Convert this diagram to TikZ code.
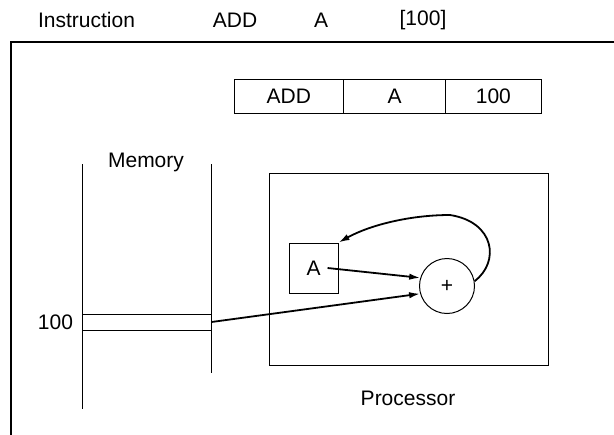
\documentclass[tikz,border=0pt]{standalone}
\usepackage{fontspec}
\setmainfont{Liberation Sans}
\usepackage{tikz}
\usetikzlibrary{arrows.meta, positioning}

\begin{document}
\begin{tikzpicture}[
        x=0.5pt, y=-0.5pt,
        font=\fontsize{10.5}{12.6}\selectfont,
        wire/.style={draw, line width=0.5pt},
        cell/.style={rectangle, draw, line width=0.5pt, minimum height=17pt, outer sep=0pt, inner sep=0pt},
        unit/.style={rectangle, draw, line width=0.5pt, inner sep=0pt},
        adder/.style={circle, draw, line width=0.5pt, minimum size=27.5pt, inner sep=0pt},
        arr/.style={-{Latex[length=5.5pt, width=3.2pt]}, line width=0.9pt}
    ]
    \useasboundingbox (0,0) rectangle (614,434);

    % Heading
    \node (instr) at (86.5,20) {Instruction};
    \node (opcode) at (235,20) {ADD};
    \node (regname) at (321,20) {A};
    \node (addr) at (423,20) {[100]};

    % Frame
    \coordinate (frametop) at (620,42);
    \coordinate (framecorner) at (11,42);
    \coordinate (framebot) at (11,440);
    \draw[wire, line width=0.6pt] (frametop) -- (framecorner) -- (framebot);

    % Instruction word
    \node[cell, minimum width=54.5pt] (fop) at (288.8,96) {ADD};
    \node[cell, minimum width=51.2pt, right=0pt of fop] (freg) {A};
    \node[cell, minimum width=47.7pt, right=0pt of freg] (faddr) {100};

    % Memory
    \coordinate (mtl) at (82,164);
    \coordinate (mbl) at (82,409);
    \coordinate (mtr) at (211,164);
    \coordinate (mbr) at (211,373);
    \draw[wire] (mtl) -- (mbl);
    \draw[wire] (mtr) -- (mbr);
    \node (memlbl) at (146,162) {Memory};
    \node[unit, minimum width=64.5pt, minimum height=8pt] (loc) at (146.5,322) {};
    \node[left=0.7pt of loc] (loclbl) {100};

    % Processor
    \node[unit, minimum width=139.5pt, minimum height=96pt] (proc) at (408.5,269) {};
    \node (proclbl) at (408,398) {Processor};
    \node[unit, minimum width=24.5pt, minimum height=25pt] (areg) at (313.5,268) {};
    \node (aval) at (areg.center) {A};
    \node[adder] (sum) at (447,286) {+};

    % Data paths
    \coordinate (looptop) at (450,215);
    \draw[arr] (aval.east) -- (sum.163);
    \draw[arr] (loc.east) -- (sum.196);
    \draw[arr] (sum.10) .. controls (500,262) and (495,222) .. (looptop)
        .. controls (410,215) and (370,225) .. (areg.north east);

\end{tikzpicture}
\end{document}
